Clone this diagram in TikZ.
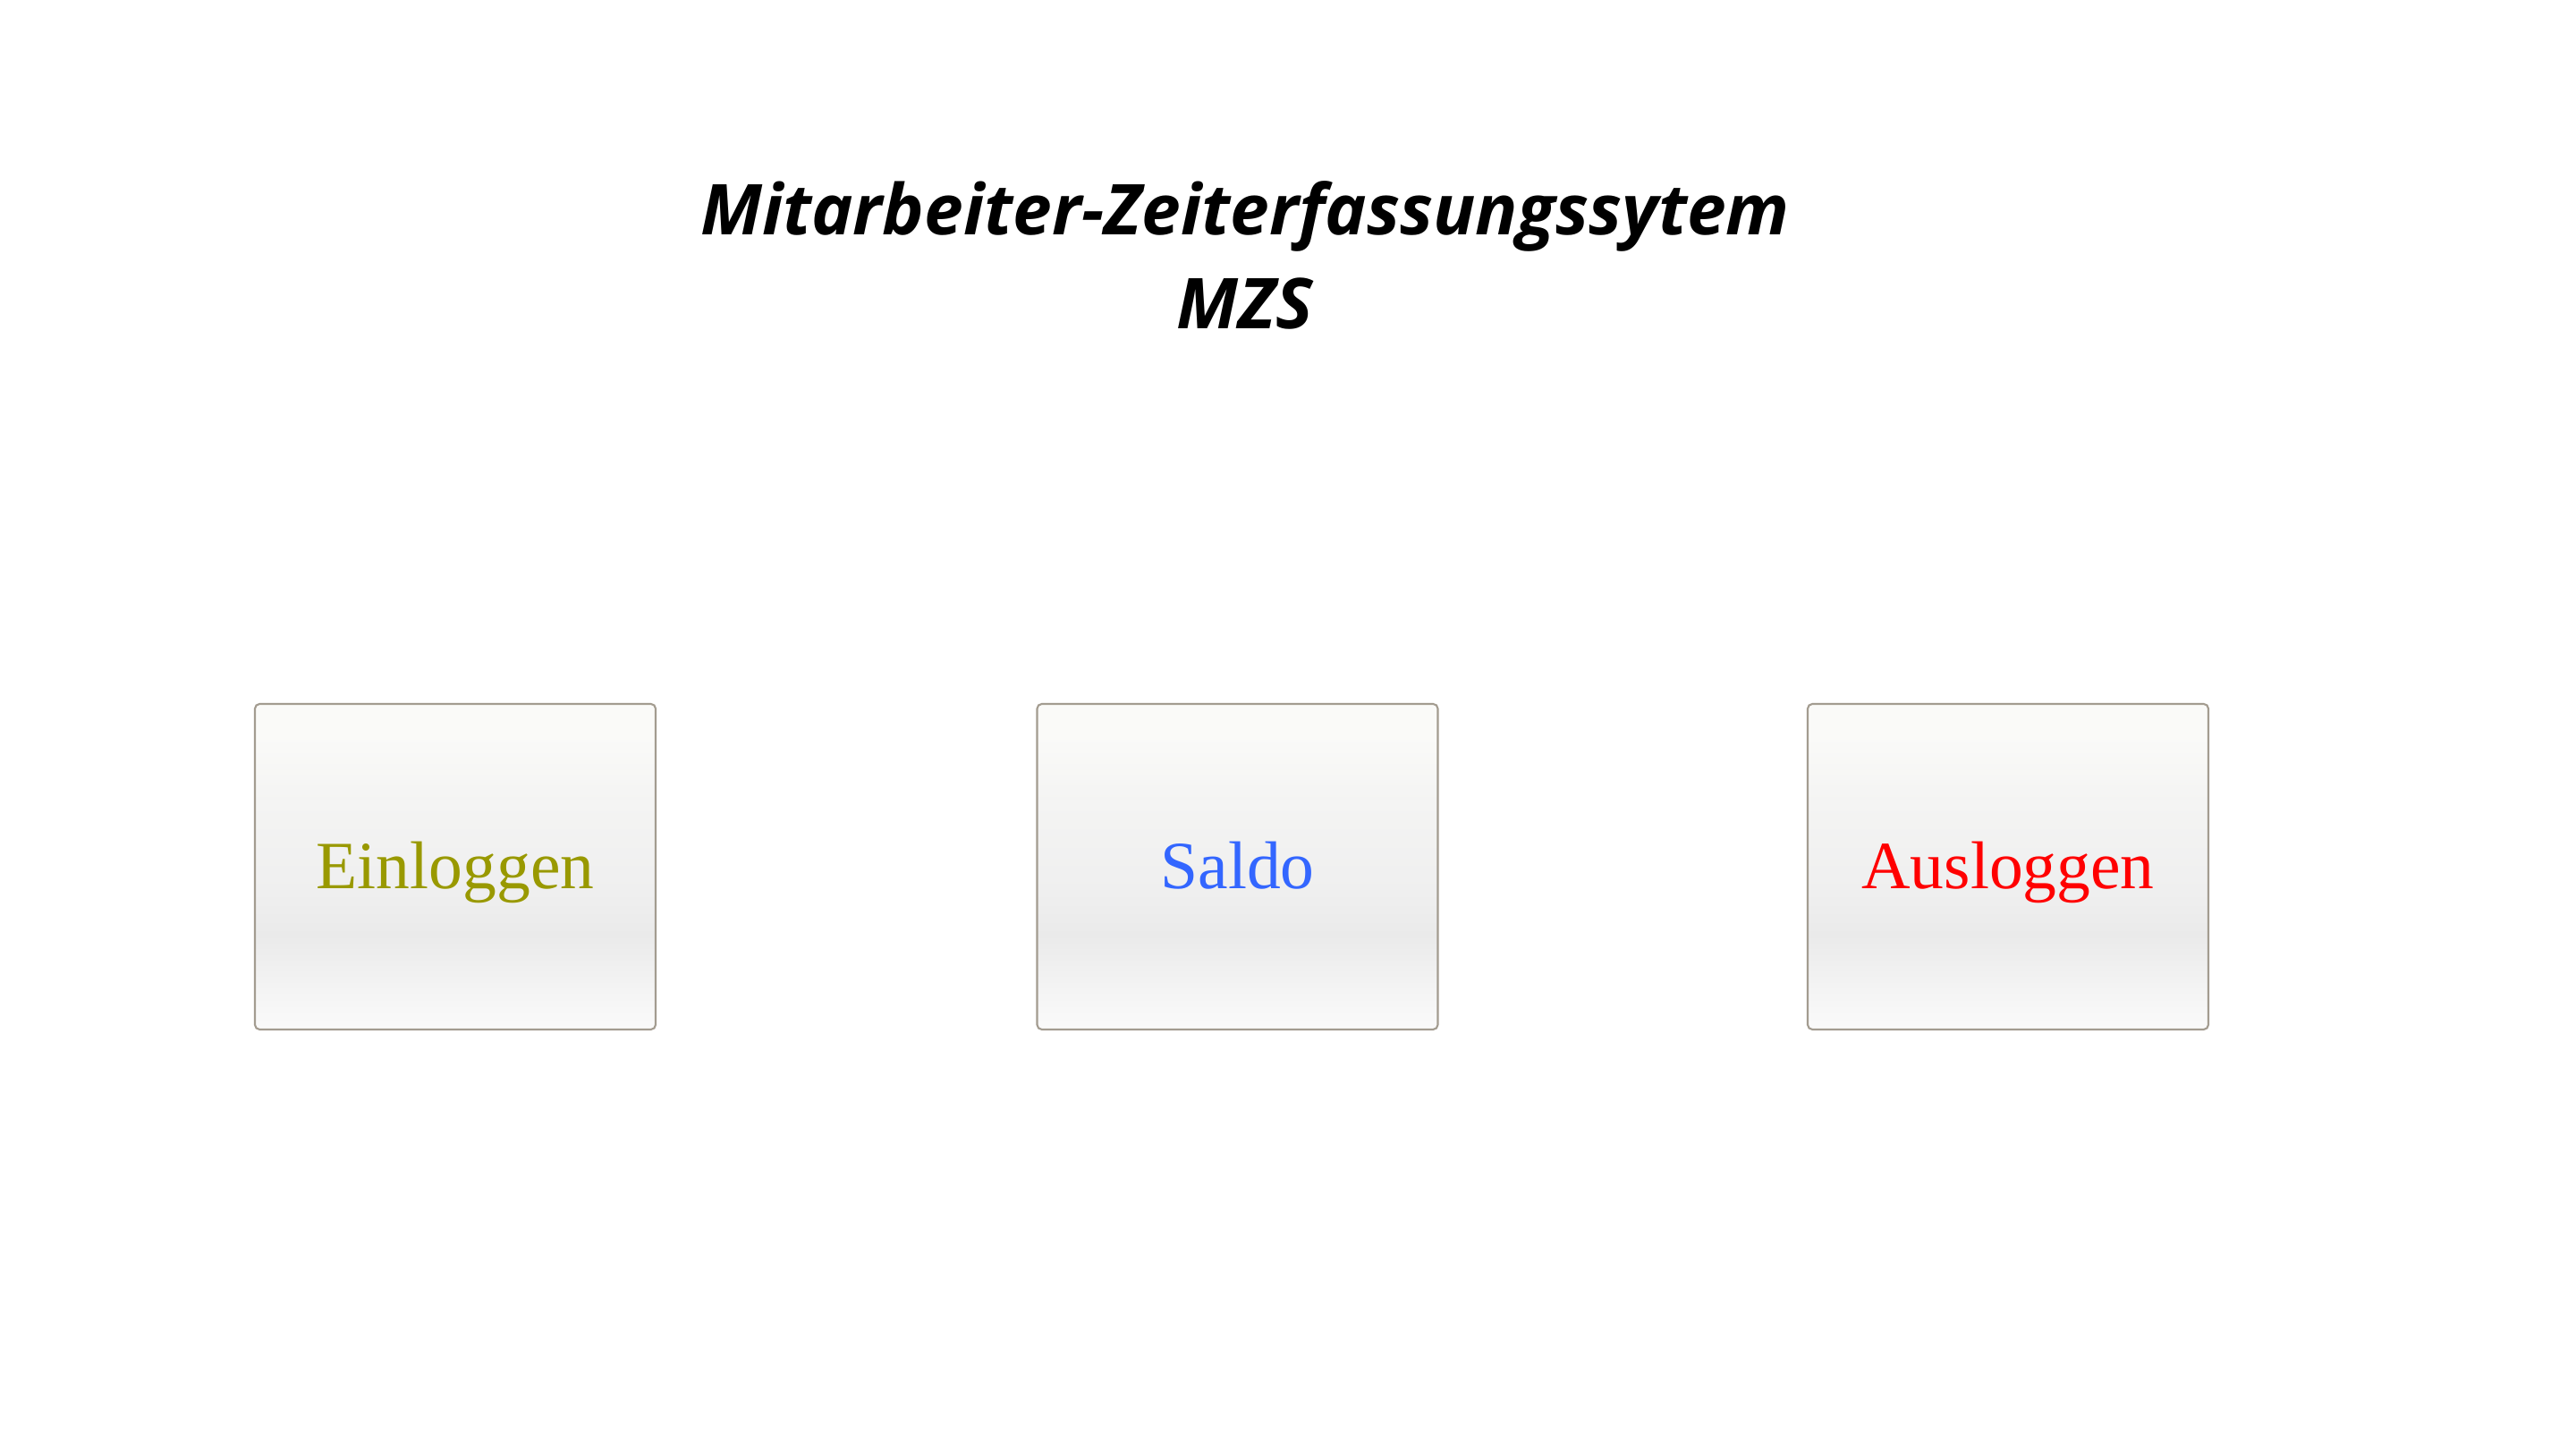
\documentclass[tikz,border=0pt]{standalone}
\usepackage{fontspec}
\setmainfont{Liberation Serif}
\newfontfamily\titlefont{Open Sans}
\definecolor{boxborder}{HTML}{A39C90}
\definecolor{olivetext}{HTML}{999900}
\definecolor{bluetext}{HTML}{3366FF}
\definecolor{redtext}{HTML}{FF0000}
\definecolor{shA}{HTML}{FAFAFA}
\definecolor{shB}{HTML}{F4F4F4}
\definecolor{shC}{HTML}{EAEAEA}
\definecolor{shD}{HTML}{EFEFEF}
\definecolor{shE}{HTML}{F4F4F3}
\definecolor{shF}{HTML}{FAFAF8}
\pgfdeclareverticalshading{boxshade}{100bp}{%
  color(0bp)=(shA); color(25bp)=(shA); color(31bp)=(shB);
  color(39.5bp)=(shC); color(46bp)=(shD); color(60bp)=(shE);
  color(70bp)=(shF); color(75bp)=(shF); color(100bp)=(shF)}
\tikzset{
  menubox/.style={draw=boxborder, line width=0.6pt, rounded corners=1.5pt,
    shading=boxshade, minimum width=4.48cm, minimum height=3.64cm,
    inner sep=0pt, text height=0.5cm, text depth=0cm,
    font=\fontsize{21.5}{26}\selectfont},
  titletext/.style={anchor=base, inner sep=0pt,
    font=\titlefont\bfseries\itshape\fontsize{22.3}{28}\selectfont}
}
\begin{document}
\begin{tikzpicture}
\useasboundingbox (0,0) rectangle (28.8,16.2);
\fill[white] (0,0) rectangle (28.8,16.2);
\node[titletext] (title1) at (13.92,13.57) {Mitarbeiter-Zeiterfassungssytem};
\node[titletext] (title2) at (13.92,12.52) {MZS};
\node[menubox, text=olivetext] (ein) at (5.09,6.51) {Einloggen};
\node[menubox, text=bluetext] (saldo) at (13.835,6.51) {Saldo};
\node[menubox, text=redtext] (aus) at (22.45,6.51) {Ausloggen};
\end{tikzpicture}
\end{document}
